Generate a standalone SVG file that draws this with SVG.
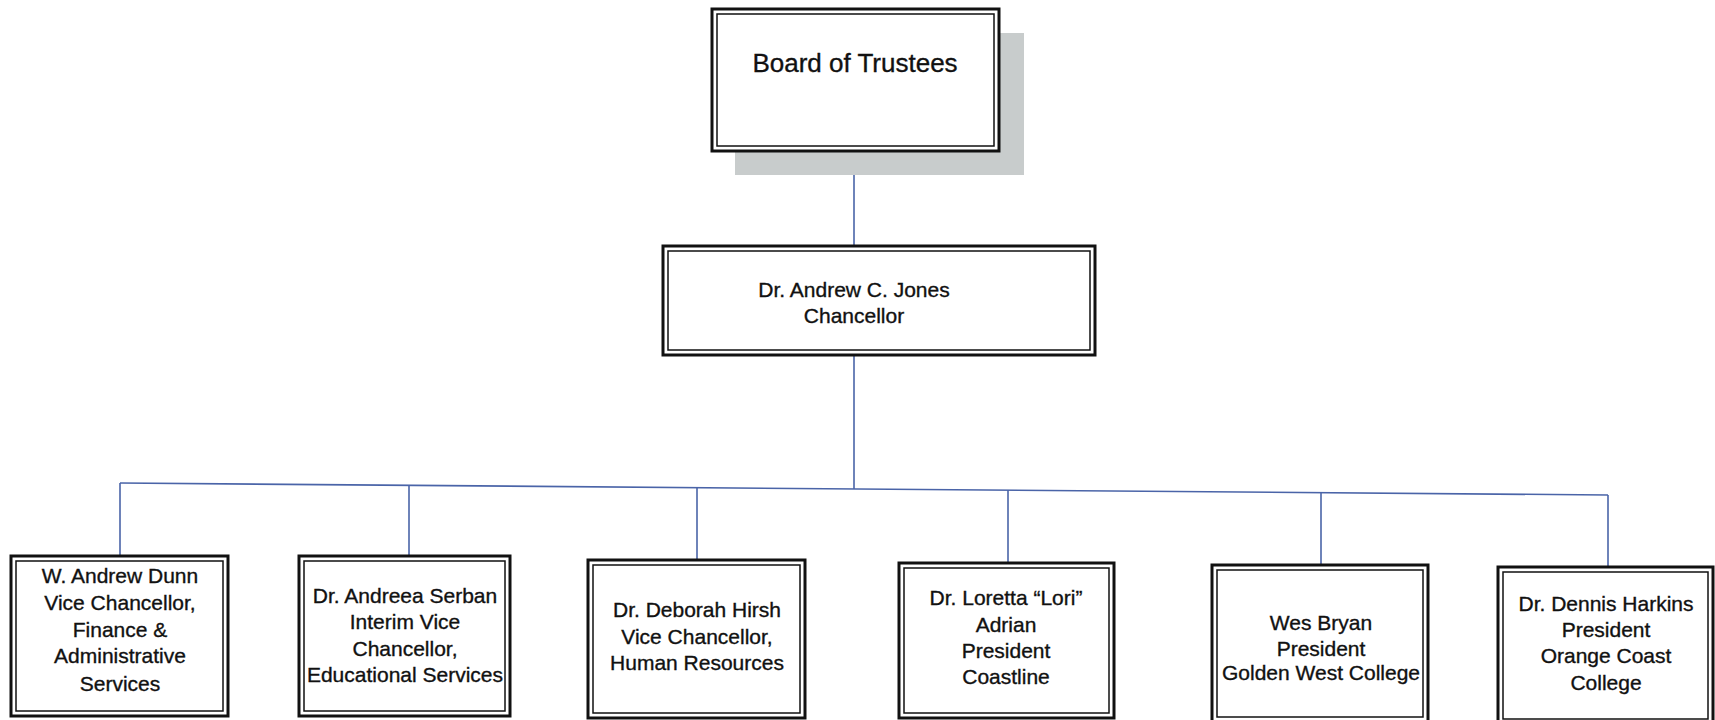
<svg xmlns="http://www.w3.org/2000/svg" width="1715" height="720" viewBox="0 0 1715 720">
<style>
.o{fill:#fff;stroke:#111;stroke-width:3}
.i{fill:none;stroke:#111;stroke-width:1.5}
.t{font-family:"Liberation Sans",Arial,sans-serif;font-size:21px;fill:#111;stroke:#111;stroke-width:0.35;text-anchor:middle}
.c{fill:none;stroke:#4a64a8;stroke-width:1.6}
</style>
<rect width="1715" height="720" fill="#fff"/>
<g id="connectors">
<line class="c" x1="854" y1="175" x2="854" y2="246"/>
<line class="c" x1="854" y1="355" x2="854" y2="489"/>
<line class="c" x1="120" y1="483" x2="1608" y2="495"/>
<line class="c" x1="120" y1="483" x2="120" y2="556"/>
<line class="c" x1="409" y1="486" x2="409" y2="556"/>
<line class="c" x1="697" y1="488" x2="697" y2="560"/>
<line class="c" x1="1008" y1="490" x2="1008" y2="563"/>
<line class="c" x1="1321" y1="493" x2="1321" y2="565"/>
<line class="c" x1="1608" y1="495" x2="1608" y2="567"/>
</g>
<g id="board">
<rect x="735" y="33" width="289" height="142" fill="#c8cccc"/>
<rect class="o" x="712" y="9" width="287" height="142"/>
<rect class="i" x="717" y="14" width="277" height="132"/>
<text class="t" x="855" y="72" style="font-size:26px">Board of Trustees</text>
</g>
<g id="chancellor">
<rect class="o" x="663" y="246" width="432" height="109"/>
<rect class="i" x="668" y="251" width="422" height="99"/>
<text class="t" x="854" y="297">Dr. Andrew C. Jones</text>
<text class="t" x="854" y="323">Chancellor</text>
</g>
<g id="dunn">
<rect class="o" x="11" y="556" width="217" height="160"/>
<rect class="i" x="16" y="561" width="207" height="150"/>
<text class="t" x="120" y="583">W. Andrew Dunn</text>
<text class="t" x="120" y="610">Vice Chancellor,</text>
<text class="t" x="120" y="637">Finance &amp;</text>
<text class="t" x="120" y="663">Administrative</text>
<text class="t" x="120" y="691">Services</text>
</g>
<g id="serban">
<rect class="o" x="299" y="556" width="211" height="160"/>
<rect class="i" x="304" y="561" width="201" height="150"/>
<text class="t" x="405" y="603">Dr. Andreea Serban</text>
<text class="t" x="405" y="629">Interim Vice</text>
<text class="t" x="405" y="656">Chancellor,</text>
<text class="t" x="405" y="682">Educational Services</text>
</g>
<g id="hirsh">
<rect class="o" x="588" y="560" width="217" height="158"/>
<rect class="i" x="593" y="565" width="207" height="148"/>
<text class="t" x="697" y="617">Dr. Deborah Hirsh</text>
<text class="t" x="697" y="644">Vice Chancellor,</text>
<text class="t" x="697" y="670">Human Resources</text>
</g>
<g id="adrian">
<rect class="o" x="899" y="563" width="215" height="155"/>
<rect class="i" x="904" y="568" width="205" height="145"/>
<text class="t" x="1006" y="605">Dr. Loretta “Lori”</text>
<text class="t" x="1006" y="632">Adrian</text>
<text class="t" x="1006" y="658">President</text>
<text class="t" x="1006" y="684">Coastline</text>
</g>
<g id="bryan">
<rect class="o" x="1212" y="565" width="216" height="157"/>
<rect class="i" x="1217" y="570" width="206" height="147"/>
<text class="t" x="1321" y="630">Wes Bryan</text>
<text class="t" x="1321" y="656">President</text>
<text class="t" x="1321" y="680">Golden West College</text>
</g>
<g id="harkins">
<rect class="o" x="1498" y="567" width="215" height="157"/>
<rect class="i" x="1503" y="572" width="205" height="147"/>
<text class="t" x="1606" y="611">Dr. Dennis Harkins</text>
<text class="t" x="1606" y="637">President</text>
<text class="t" x="1606" y="663">Orange Coast</text>
<text class="t" x="1606" y="690">College</text>
</g>
</svg>
